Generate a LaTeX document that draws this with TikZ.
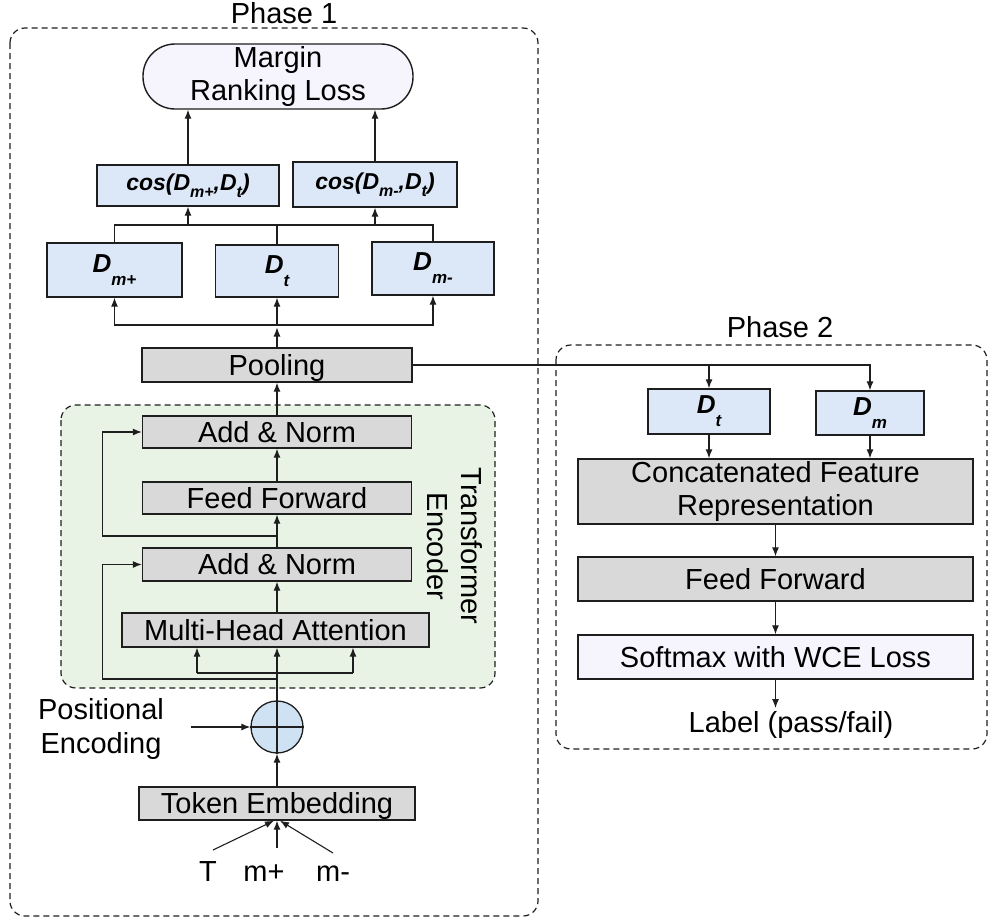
\documentclass[tikz,border=0pt]{standalone}
\usepackage{fontspec}
\setmainfont{Liberation Sans}
\usetikzlibrary{arrows.meta}
\definecolor{linec}{RGB}{30,30,30}
\definecolor{bluefill}{RGB}{220,232,248}
\definecolor{grayfill}{RGB}{217,217,217}
\definecolor{lavfill}{RGB}{246,244,253}
\definecolor{encfill}{RGB}{233,243,229}
\definecolor{circfill}{RGB}{207,226,243}
\newcommand{\bi}[1]{{\bfseries\itshape #1}}
\newcommand{\Dbig}[1]{\fontsize{26}{26}\selectfont\bi{D}\raisebox{-13pt}{\fontsize{17}{17}\selectfont\bi{#1}}}
\newcommand{\cosD}[1]{\fontsize{23}{23}\selectfont\bi{cos(D}\raisebox{-7pt}{\fontsize{16}{16}\selectfont\bi{#1}}\bi{,D}\raisebox{-7pt}{\fontsize{16}{16}\selectfont\bi{t}}\bi{)}}
\begin{document}
\begin{tikzpicture}[x=1pt,y=-1pt,
  txt/.style={font=\fontsize{29}{34}\selectfont, inner sep=0pt},
  bx/.style={draw=linec, line width=1.4pt, inner sep=0pt, font=\fontsize{29}{33}\selectfont},
  gbox/.style={bx, fill=grayfill, text height=20.8pt, text depth=0pt},
  bbox/.style={bx, fill=bluefill},
  phase/.style={draw=linec, line width=1.2pt, dash pattern=on 6pt off 4pt, rounded corners=15pt},
  ln/.style={draw=linec, line width=1.1pt},
  arr/.style={draw=linec, line width=1.1pt, -{Latex[length=9pt,width=7pt]}}]
\useasboundingbox (0,0) rectangle (989,922);

% ---------------- Phase 1 ----------------
\draw[phase] (10,28) rectangle (538,916);
\node[txt, anchor=base] (ph1) at (284,23) {Phase 1};

\node[bx, fill=lavfill, rounded corners=32pt, minimum width=270pt, minimum height=65pt, align=center] (mrl) at (278,76.5) {Margin\\Ranking Loss};

\node[bbox, minimum width=182pt, minimum height=41pt] (cos1) at (188,185.5) {\cosD{m+}};
\node[bbox, minimum width=164pt, minimum height=45pt] (cos2) at (375,184.5) {\cosD{m-}};

\node[bbox, minimum width=135pt, minimum height=54pt] (dmp) at (114.5,270) {\Dbig{m+}};
\node[bbox, minimum width=123pt, minimum height=52pt] (dt) at (277,271) {\Dbig{t}};
\node[bbox, minimum width=122pt, minimum height=53pt] (dmm) at (433,268.5) {\Dbig{m-}};

\node[gbox, minimum width=270pt, minimum height=34pt] (pool) at (277,365) {Pooling};

% encoder container
\draw[phase, fill=encfill] (61,405) rectangle (495,688);
\node[txt, rotate=-90, align=center] (encl) at (455,546) {Transformer\\Encoder};

\node[gbox, minimum width=269pt, minimum height=32pt] (an1) at (277,432) {Add \& Norm};
\node[gbox, minimum width=269pt, minimum height=32pt] (ff) at (277,498) {Feed Forward};
\node[gbox, minimum width=269pt, minimum height=33pt] (an2) at (277,564.5) {Add \& Norm};
\node[gbox, minimum width=307pt, minimum height=34pt] (mha) at (275.5,630) {Multi-Head Attention};

\node[circle, draw=linec, line width=1.3pt, fill=circfill, minimum size=52pt, inner sep=0pt] (circ) at (277,727) {};
\draw[ln] (circ.north) -- (circ.south) (circ.west) -- (circ.east);

\node[txt, align=center] (pel) at (101,729) {Positional\\Encoding};

\node[gbox, minimum width=276pt, minimum height=33pt] (te) at (277,803.5) {Token Embedding};

\node[txt, anchor=base] (inT) at (208,881) {T};
\node[txt, anchor=base] (inP) at (264,881) {m+};
\node[txt, anchor=base] (inM) at (333,881) {m-};

% connectors phase 1
\draw[arr] (cos1.north) -- (cos1.north |- mrl.south);
\draw[arr] (cos2.north) -- (cos2.north |- mrl.south);
\coordinate (jt) at (277,225);
\draw[ln] (dmp.north) |- (jt) -| (dmm.north);
\draw[ln] (dt.north) -- (jt);
\draw[arr] (cos1.south |- jt) -- (cos1.south);
\draw[arr] (cos2.south |- jt) -- (cos2.south);

\coordinate (jb) at (277,325);
\coordinate (jb2) at (277,327.5);
\draw[arr] (pool.north) -- (jb2);
\draw[arr] (jb) -- (dt.south);
\draw[arr] (jb) -| (dmp.south);
\draw[arr] (jb) -| (dmm.south);

\draw[arr] (an1.north) -- (pool.south);
\draw[arr] (ff.north) -- (an1.south);
\draw[arr] (an2.north) -- (ff.south);
\draw[arr] (an2.south |- mha.north) -- (an2.south);

\coordinate (r1) at (277,536);
\draw[arr] (r1) -| ([xshift=-39.5pt]an1.west) -- (an1.west);
\coordinate (r2) at (277,679);
\draw[arr] (r2) -| ([xshift=-39.5pt]an2.west) -- (an2.west);

\coordinate (mL) at (197,673);
\coordinate (mR) at (353,673);
\draw[ln] (mL) -- (mR);
\draw[arr] (mL) -- (mL |- mha.south);
\draw[arr] (mR) -- (mR |- mha.south);
\draw[arr] (circ.north) -- (circ.north |- mha.south);

\draw[arr] (te.north) -- (circ.south);
\coordinate (pe) at (191,727);
\draw[arr] (pe) -- (circ.west);

\coordinate (tT) at (213,850);
\coordinate (tP) at (277,848);
\coordinate (tM) at (333,853);
\draw[arr] (tT) -- ([xshift=-3pt]te.south);
\draw[arr] (tP) -- (te.south);
\draw[arr] (tM) -- ([xshift=3pt]te.south);

% ---------------- Phase 2 ----------------
\draw[phase] (556,345) rectangle (987,749);
\node[txt, anchor=base] (ph2) at (780,337) {Phase 2};

\node[bbox, minimum width=122pt, minimum height=45pt] (dt2) at (709,411.5) {\Dbig{t}};
\node[bbox, minimum width=108pt, minimum height=44pt] (dm2) at (870,413) {\Dbig{m}};

\node[bx, fill=grayfill, minimum width=395pt, minimum height=65pt, align=center] (cat) at (775.5,491.5) {Concatenated Feature\\Representation};
\node[gbox, minimum width=395pt, minimum height=44pt] (ff2) at (775.5,579) {Feed Forward};
\node[bx, fill=lavfill, text height=20.8pt, text depth=0pt, minimum width=395pt, minimum height=44pt] (sm) at (775.5,657) {Softmax with WCE Loss};

\node[txt, anchor=base] (lab) at (791,732) {Label (pass/fail)};

\draw[arr] (pool.east) -| (dm2.north);
\draw[arr] (dt2.north |- pool.east) -- (dt2.north);
\draw[arr] (dt2.south) -- (dt2.south |- cat.north);
\draw[arr] (dm2.south) -- (dm2.south |- cat.north);
\draw[arr] (cat.south) -- (ff2.north);
\draw[arr] (ff2.south) -- (sm.north);
\coordinate (labtop) at (775.5,708);
\draw[arr] (sm.south) -- (labtop);
\end{tikzpicture}
\end{document}
